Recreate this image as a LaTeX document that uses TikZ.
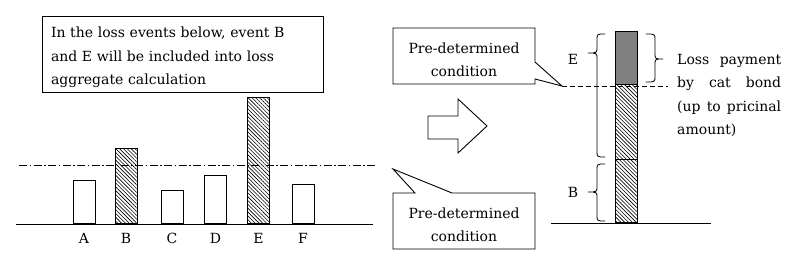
\documentclass[tikz,border=0pt]{standalone}
\usepackage{fontspec}
\setmainfont{DejaVu Serif}
\usetikzlibrary{patterns.meta}
\newcommand\dfont{\fontsize{14pt}{23.5pt}\selectfont}
\tikzset{
  ln/.style={line width=0.9pt},
  barbox/.style={draw, line width=0.9pt, fill=white, minimum width=22pt, anchor=south, inner sep=0pt},
  hatchbox/.style={barbox, pattern={Lines[angle=-45,distance=2.7pt,line width=0.6pt]}},
  darkbox/.style={barbox, fill={rgb,255:red,128;green,128;blue,128}},
  lbl/.style={font=\dfont, inner sep=0pt},
  bracepath/.style={line width=0.8pt, line cap=round, line join=round},
}
\begin{document}
\begin{tikzpicture}[x=1pt,y=-1pt]
\useasboundingbox (0,0) rectangle (800,262);
\fill[white] (0,0) rectangle (800,262);

% ---------- left part ----------
\node[draw, ln, minimum width=281pt, minimum height=76pt, inner sep=0pt] (note) at (182.5,54) {};
\node[lbl, text width=263pt, align=left] (noteText) at (182.5,57.5)
  {In the loss events below, event B\\and E will be included into loss\\aggregate calculation};

\coordinate (baseL) at (16,224);
\coordinate (baseR) at (373,224);
\draw[ln] (baseL) -- (baseR);

\node[barbox,   minimum height=43pt]  (barA) at (84,224) {};
\node[hatchbox, minimum height=75pt]  (barB) at (126,224) {};
\node[barbox,   minimum height=33pt]  (barC) at (172,224) {};
\node[barbox,   minimum height=48pt]  (barD) at (215.5,224) {};
\node[hatchbox, minimum height=126pt] (barE) at (258.5,224) {};
\node[barbox,   minimum height=39pt]  (barF) at (303,224) {};

\coordinate (thrL) at (19,165);
\coordinate (thrR) at (376,165);
\draw[line width=0.8pt, dash pattern=on 8pt off 2.5pt on 1.5pt off 2.5pt] (thrL) -- (thrR);

\foreach \b/\t in {A/A,B/B,C/C,D/D,E/E,F/F}
  \node[lbl, anchor=base] (lab\b) at ([yshift=-19pt]bar\b.south |- 0,224) {\t};

% ---------- arrow ----------
\draw[ln, fill=white, line join=miter] (428,116) -- (458,116) -- (458,99) -- (487,126) -- (458,153) -- (458,139) -- (428,139) -- cycle;

% ---------- callouts ----------
\draw[ln, fill=white, line join=miter] (393,28) -- (535,28) -- (535,62) -- (562,86) -- (535,79) -- (535,84) -- (393,84) -- cycle;
\node[lbl, align=center] (cond1) at (464,60) {Pre-determined\\condition};

\draw[ln, fill=white, line join=miter] (393,193) -- (415,193) -- (393,169) -- (452,193) -- (535,193) -- (535,249) -- (393,249) -- cycle;
\node[lbl, align=center] (cond2) at (464,225) {Pre-determined\\condition};

% ---------- right part ----------
\coordinate (dashL) at (562,86);
\coordinate (dashR) at (668,86);
\draw[line width=0.8pt, dash pattern=on 5pt off 3pt] (dashL) -- (dashR);

\coordinate (baseRL) at (551,223);
\coordinate (baseRR) at (711,223);
\draw[ln] (baseRL) -- (baseRR);

\node[hatchbox, minimum height=63pt] (colB) at (626,223) {};
\node[hatchbox, minimum height=75pt] (colE) at (626,160) {};
\node[darkbox,  minimum height=53pt] (colP) at (626,85) {};

% braces
\draw[bracepath] (605,34) .. controls (597,34) and (597,34) .. (597,40) -- (597,47)
   .. controls (597,53) and (597,53) .. (588,53)
   .. controls (597,53) and (597,53) .. (597,59) -- (597,151)
   .. controls (597,157) and (597,157) .. (605,157);
\node[lbl] (lblE) at (573,59) {E};

\draw[bracepath] (605,164) .. controls (597,164) and (597,164) .. (597,170) -- (597,186)
   .. controls (597,192) and (597,192) .. (588,192)
   .. controls (597,192) and (597,192) .. (597,198) -- (597,215)
   .. controls (597,221) and (597,221) .. (605,221);
\node[lbl] (lblB) at (573,192) {B};

\draw[bracepath] (646,34) .. controls (655,34) and (655,34) .. (655,40) -- (655,53)
   .. controls (655,59) and (655,59) .. (663,59)
   .. controls (655,59) and (655,59) .. (655,65) -- (655,76)
   .. controls (655,82) and (655,82) .. (646,82);

\node[lbl, anchor=north west, text width=104pt, align=left] (pay) at (677,54)
  {\makebox[104pt][l]{Loss\hfill payment}\\\makebox[104pt][l]{by\hfill cat\hfill bond}\\\makebox[104pt][l]{(up\hfill to\hfill pricinal}\\amount)};
\end{tikzpicture}
\end{document}
